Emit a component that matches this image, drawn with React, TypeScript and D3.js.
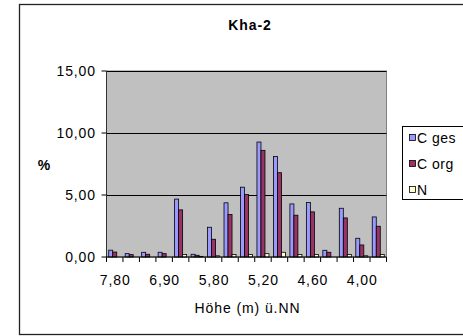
import React from "react";
import * as d3 from "d3";

const categories = ["7,80", "7,50", "7,20", "6,90", "6,50", "6,10", "5,80", "5,60", "5,40", "5,20", "5,00", "4,80", "4,60", "4,40", "4,20", "4,00", "3,80"];
const cGes = [0.55, 0.27, 0.38, 0.38, 4.67, 0.22, 2.4, 4.37, 5.63, 9.27, 8.1, 4.28, 4.39, 0.54, 3.93, 1.51, 3.23];
const cOrg = [0.4, 0.19, 0.22, 0.27, 3.8, 0.14, 1.43, 3.42, 5.04, 8.6, 6.8, 3.37, 3.64, 0.38, 3.15, 0.97, 2.48];
const nVals = [0, 0, 0, 0, 0.2, 0.05, 0.1, 0.2, 0.2, 0.27, 0.38, 0.2, 0.2, 0, 0.2, 0.1, 0.2];
const seriesNames = ["C ges", "C org", "N"];
const seriesColors = ["#9999FF", "#993366", "#FFFFCC"];
const yTicks = [0, 5, 10, 15];
const title = "Kha-2";
const xTitle = "Höhe (m) ü.NN";
const yTitle = "%";

const W = 463;
const H = 336;
const plot = { left: 106.5, right: 386.5, top: 71, bottom: 257 };
const font = "Arial, 'Liberation Sans', sans-serif";
const FS = 14;
const LS = 0.9;

export default function App() {
  const series = [cGes, cOrg, nVals];
  const x = d3
    .scaleBand<string>()
    .domain(categories)
    .range([plot.left, plot.right])
    .paddingInner(0.27)
    .paddingOuter(0.135);
  const xs = d3
    .scaleBand<string>()
    .domain(seriesNames)
    .range([0, x.bandwidth()])
    .padding(0);
  const y = d3.scaleLinear().domain([0, 15]).range([plot.bottom, plot.top]);
  const step = x.step();
  const fmt = (v: number) => v.toFixed(2).replace(".", ",");

  return (
    <svg
      width={W}
      height={H}
      style={{ position: "absolute", left: 0, top: 0, fontFamily: font }}
    >
      <rect x={0} y={0} width={W} height={H} fill="#fff" />
      {/* outer frame */}
      <rect x={19.5} y={4.5} width={W + 10} height={330} fill="#fff" stroke="#222" strokeWidth={1.3} />
      {/* title */}
      <text x={250} y={29.5} textAnchor="middle" fontSize={FS} fontWeight="bold" letterSpacing={LS}>
        {title}
      </text>
      {/* plot area */}
      <rect
        x={plot.left}
        y={plot.top}
        width={plot.right - plot.left}
        height={plot.bottom - plot.top}
        fill="#C0C0C0"
        stroke="#808080"
        strokeWidth={1}
      />
      {/* gridlines */}
      {yTicks.filter((t) => t > 0).map((t) => (
        <line key={"g" + t} x1={plot.left} x2={plot.right} y1={Math.round(y(t)) + 0.5} y2={Math.round(y(t)) + 0.5} stroke="#000" strokeWidth={1} />
      ))}
      {/* bars */}
      {categories.map((c, i) => (
        <g key={c}>
          {series.map((s, j) => {
            const v = s[i];
            if (v <= 0) return null;
            const bx = (x(c) as number) + (xs(seriesNames[j]) as number);
            return (
              <rect
                key={j}
                x={bx}
                y={y(v)}
                width={xs.bandwidth()}
                height={y(0) - y(v)}
                fill={seriesColors[j]}
                stroke="#000"
                strokeWidth={0.8}
              />
            );
          })}
        </g>
      ))}
      {/* axes */}
      <line x1={plot.left} x2={plot.left} y1={plot.top} y2={plot.bottom} stroke="#333" strokeWidth={1} />
      <line x1={plot.left} x2={plot.right} y1={plot.bottom} y2={plot.bottom} stroke="#000" strokeWidth={1} />
      {yTicks.map((t) => (
        <g key={"y" + t}>
          <line x1={plot.left - 5} x2={plot.left} y1={y(t)} y2={y(t)} stroke="#000" />
          <text x={96} y={y(t) + 5} textAnchor="end" fontSize={FS} letterSpacing={LS}>
            {fmt(t)}
          </text>
        </g>
      ))}
      {categories.map((c, i) => {
        const bx = (x(c) as number) - (step - x.bandwidth()) / 2;
        return <line key={"xt" + i} x1={bx} x2={bx} y1={plot.bottom} y2={plot.bottom + 5} stroke="#000" />;
      })}
      <line x1={plot.right} x2={plot.right} y1={plot.bottom} y2={plot.bottom + 5} stroke="#000" />
      {categories.map((c, i) =>
        i % 3 === 0 ? (
          <text key={"xl" + i} x={(x(c) as number) + x.bandwidth() / 2 + 0.5} y={285} textAnchor="middle" fontSize={FS} letterSpacing={LS}>
            {c}
          </text>
        ) : null
      )}
      <text x={247.5} y={312.5} textAnchor="middle" fontSize={FS} letterSpacing={LS}>
        {xTitle}
      </text>
      <text x={44} y={170} textAnchor="middle" fontSize={FS} fontWeight="bold">
        {yTitle}
      </text>
      {/* legend */}
      <rect x={402.5} y={126.5} width={80} height={73} fill="#fff" stroke="#000" strokeWidth={1} />
      {seriesNames.map((s, j) => (
        <g key={"lg" + j}>
          <rect x={409.5} y={134.5 + j * 26} width={6} height={6} fill={seriesColors[j]} stroke="#000" strokeWidth={0.8} />
          <text x={417} y={142.5 + j * 26} fontSize={FS} letterSpacing={0.5}>
            {s}
          </text>
        </g>
      ))}
    </svg>
  );
}
